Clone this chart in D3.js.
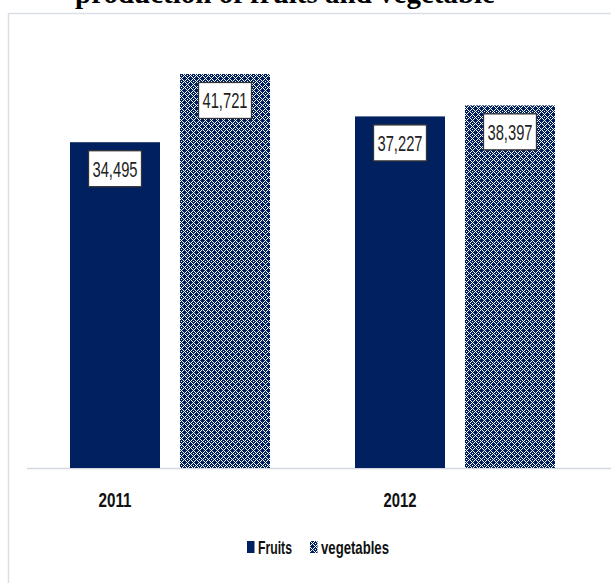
<!DOCTYPE html>
<html>
<head>
<meta charset="utf-8">
<script src="https://cdn.jsdelivr.net/npm/d3@7"></script>
<style>
  html, body { margin: 0; padding: 0; background: #fff; }
  svg { display: block; }
</style>
</head>
<body>
<script>
const title = "production of fruits and vegetable";
const categories = ["2011", "2012"];
const seriesNames = ["Fruits", "vegetables"];
const fruits = [34495, 37227];
const vegetables = [41721, 38397];
const legendLabels = ["Fruits", "vegetables"];

const W = 611, H = 583;
const navy = "#002060";
const sans = "'Liberation Sans', Arial, sans-serif";

const svg = d3.select("body").append("svg").attr("width", W).attr("height", H);

// pattern
const defs = svg.append("defs");
const pat = defs.append("pattern").attr("id", "diamond")
  .attr("patternUnits", "userSpaceOnUse").attr("width", 6).attr("height", 6);
pat.append("rect").attr("width", 6).attr("height", 6).attr("fill", navy);
const whitePix = [[3,0],[2,1],[4,1],[1,2],[5,2],[0,3],[1,4],[5,4],[2,5],[4,5],[3,3]];
pat.selectAll("rect.p").data(whitePix).enter().append("rect").attr("class", "p")
  .attr("x", d => d[0]).attr("y", d => d[1]).attr("width", 1).attr("height", 1)
  .attr("fill", "#ffffff").attr("shape-rendering", "crispEdges");

// frame
svg.append("rect").attr("x", 8.5).attr("y", 13.5).attr("width", 700).attr("height", 700)
  .attr("fill", "none").attr("stroke", "#dadfe7").attr("stroke-width", 1.5);

// title (top part cut off, as in the reference)
svg.append("text").attr("x", 285).attr("y", 3).attr("text-anchor", "middle")
  .attr("font-family", "'Liberation Serif', 'Times New Roman', serif")
  .attr("font-weight", "bold").attr("font-size", 29).attr("fill", "#000")
  .text(title);

const data = categories.map((c, i) => ({ cat: c, values: [fruits[i], vegetables[i]] }));

const x0 = d3.scaleBand().domain(categories).range([70, 555]).paddingInner(85 / 285);
const x1 = d3.scaleBand().domain(seriesNames).range([0, x0.bandwidth()]).paddingInner(40 / 220);
const y = d3.scaleLinear().domain([0, 45000]).range([468, 43]);
const fills = { "Fruits": navy, "vegetables": "url(#diamond)" };

// baseline
svg.append("line").attr("x1", 27).attr("x2", W).attr("y1", y(0) + 0.5).attr("y2", y(0) + 0.5)
  .attr("stroke", "#d3d8e0").attr("stroke-width", 1.5);

const groups = svg.selectAll("g.grp").data(data).enter().append("g")
  .attr("class", "grp").attr("transform", d => `translate(${x0(d.cat)},0)`);

const bars = groups.selectAll("g.bar").data(d => d.values.map((v, j) => ({ s: seriesNames[j], v })))
  .enter().append("g").attr("class", "bar");

bars.append("rect")
  .attr("x", d => x1(d.s)).attr("width", x1.bandwidth())
  .attr("y", d => y(d.v)).attr("height", d => y(0) - y(d.v))
  .attr("fill", d => fills[d.s]);

const fmt = d3.format(",");
const bw = 53, bh = 36;
bars.append("rect")
  .attr("x", d => x1(d.s) + x1.bandwidth() / 2 - bw / 2)
  .attr("y", d => y(d.v) + 8.5)
  .attr("width", bw).attr("height", bh)
  .attr("fill", "#fff").attr("stroke", "#333").attr("stroke-width", 1.3);
bars.append("text")
  .attr("x", d => x1(d.s) + x1.bandwidth() / 2)
  .attr("y", d => y(d.v) + 8.5 + bh / 2 + 8)
  .attr("text-anchor", "middle")
  .attr("font-family", sans).attr("font-size", 22).attr("fill", "#222")
  .attr("textLength", 45).attr("lengthAdjust", "spacingAndGlyphs")
  .text(d => fmt(d.v));

// category labels (centered under first series bar)
svg.selectAll("text.cat").data(categories).enter().append("text").attr("class", "cat")
  .attr("x", c => x0(c) + x1("Fruits") + x1.bandwidth() / 2)
  .attr("y", 507).attr("text-anchor", "middle")
  .attr("font-family", sans).attr("font-weight", "bold").attr("font-size", 21)
  .attr("textLength", 33).attr("lengthAdjust", "spacingAndGlyphs")
  .attr("fill", "#111").text(c => c);

// legend
const lg = svg.append("g");
const legendX = [247, 310];
const legendLen = [34, 68];
legendLabels.forEach((lab, i) => {
  lg.append("rect").attr("x", legendX[i]).attr("y", 541).attr("width", 7.5).attr("height", 12)
    .attr("fill", fills[seriesNames[i]]);
  lg.append("text").attr("x", legendX[i] + 11).attr("y", 554)
    .attr("font-family", sans).attr("font-weight", "bold").attr("font-size", 19)
    .attr("textLength", legendLen[i]).attr("lengthAdjust", "spacingAndGlyphs")
    .attr("fill", "#111").text(lab);
});
</script>
</body>
</html>
